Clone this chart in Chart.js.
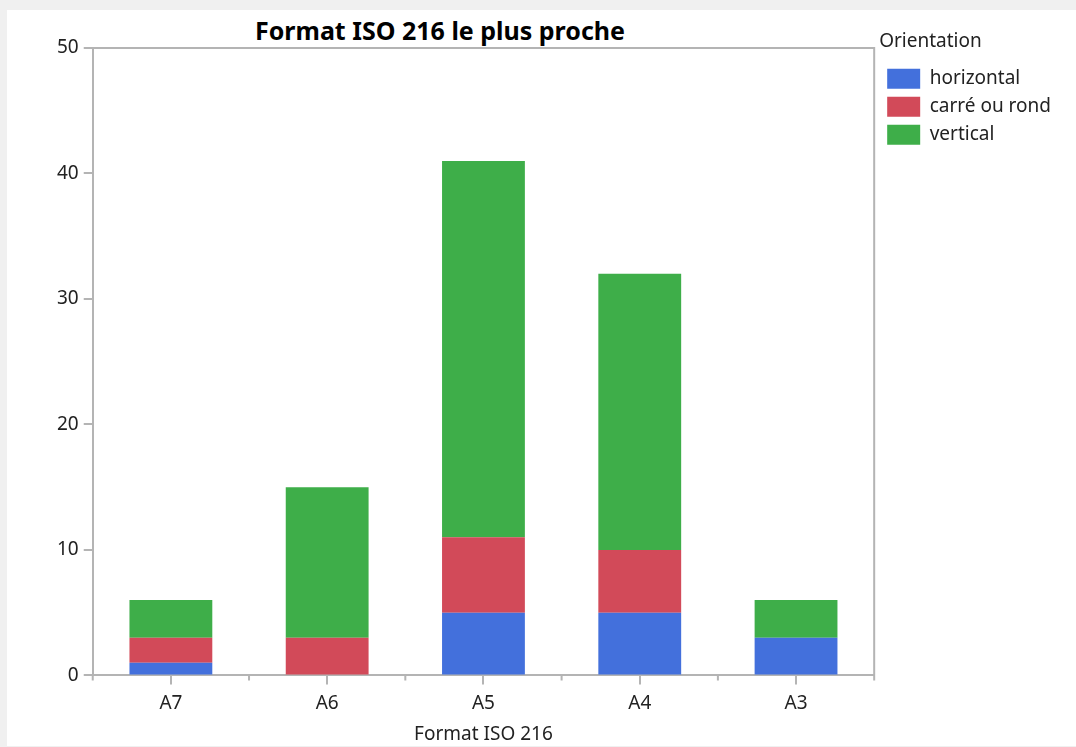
<!DOCTYPE html>
<html>
<head>
<meta charset="utf-8">
<script src="https://cdn.jsdelivr.net/npm/chart.js@4"></script>
<style>
	body { margin: 0; background: #f0f0f0; font-family: "Noto Sans", sans-serif; }
	.panel { position: absolute; left: 7px; top: 10px; width: 1069px; height: 736px; background: #fff; }
	.title { position: absolute; left: 0; width: 866px; top: 3px; text-align: center; font-weight: bold; font-size: 25px; color: #000; }
	canvas { position: absolute; left: 0; top: 0; }
</style>
</head>
<body>
<div class="panel">
	<div class="title">Format ISO 216 le plus proche</div>
	<canvas id="myChart" width="1069" height="736"></canvas>
</div>
<script>
const formats = ['A7', 'A6', 'A5', 'A4', 'A3'];
const horizontal = [1, 0, 5, 5, 3];
const carreOuRond = [2, 3, 6, 5, 0];
const vertical = [3, 12, 30, 22, 3];

const axisColor = '#b4b4b4';
const textColor = '#222';

// petits traits entre les catégories + cadre du graphique
const frame = {
	id: 'frame',
	afterDraw(chart) {
		const c = chart.ctx;
		const a = chart.chartArea;
		const x = chart.scales.x;
		c.save();
		c.strokeStyle = axisColor;
		c.lineWidth = 2;
		c.beginPath();
		c.moveTo(a.left, a.top);
		c.lineTo(a.right, a.top);
		c.lineTo(a.right, a.bottom);
		for (let i = 0; i <= formats.length; i++) {
			let px;
			if (i == 0) px = a.left;
			else if (i == formats.length) px = a.right;
			else px = (x.getPixelForValue(i - 1) + x.getPixelForValue(i)) / 2;
			c.moveTo(px, a.bottom);
			c.lineTo(px, a.bottom + 5);
		}
		c.stroke();
		c.restore();
	}
};

// axes vides, juste pour laisser de la place en haut et à droite
const spacer = (pos, size) => ({
	position: pos,
	display: true,
	grid: { display: false, drawTicks: false },
	border: { display: false },
	ticks: { display: false },
	afterFit(s) {
		if (pos == 'top') s.height = size;
		else s.width = size;
	}
});

const ctx = document.getElementById('myChart');

new Chart(ctx, {
	type: 'bar',
	data: {
		labels: formats,
		datasets: [
			{ label: 'horizontal', data: horizontal, backgroundColor: '#4370dc', borderWidth: 0 },
			{ label: 'carré ou rond', data: carreOuRond, backgroundColor: '#d24a59', borderWidth: 0 },
			{ label: 'vertical', data: vertical, backgroundColor: '#3eae49', borderWidth: 0 }
		]
	},
	options: {
		responsive: false,
		animation: false,
		categoryPercentage: 1,
		barPercentage: 0.53,
		layout: { padding: { top: 22, right: 15, bottom: 0, left: 45 } },
		plugins: {
			tooltip: { enabled: false },
			legend: {
				position: 'right',
				align: 'start',
				maxWidth: 260,
				title: {
					display: true,
					text: 'Orientation',
					position: 'start',
					color: textColor,
					font: { family: 'Noto Sans', size: 19 },
					padding: { top: 0, bottom: 6 }
				},
				labels: {
					boxWidth: 33,
					boxHeight: 20,
					padding: 8,
					color: textColor,
					font: { family: 'Noto Sans', size: 19 }
				}
			}
		},
		scales: {
			x: {
				stacked: true,
				grid: { display: true, offset: false, drawOnChartArea: false, tickLength: 9, color: axisColor, lineWidth: 2 },
				border: { color: axisColor, width: 2 },
				ticks: { color: textColor, font: { family: 'Noto Sans', size: 19 }, padding: 8 },
				title: { display: true, text: 'Format ISO 216', color: textColor, font: { family: 'Noto Sans', size: 19 }, padding: { top: 0, bottom: 0 } }
			},
			y: {
				stacked: true,
				min: 0,
				max: 50,
				grid: { display: true, drawOnChartArea: false, tickLength: 9, color: axisColor, lineWidth: 2 },
				border: { color: axisColor, width: 2 },
				ticks: { stepSize: 10, color: textColor, font: { family: 'Noto Sans', size: 19 }, padding: 5 }
			},
			xTop: spacer('top', 16),
			yRight: spacer('right', 5)
		}
	},
	plugins: [frame]
});
</script>
</body>
</html>
